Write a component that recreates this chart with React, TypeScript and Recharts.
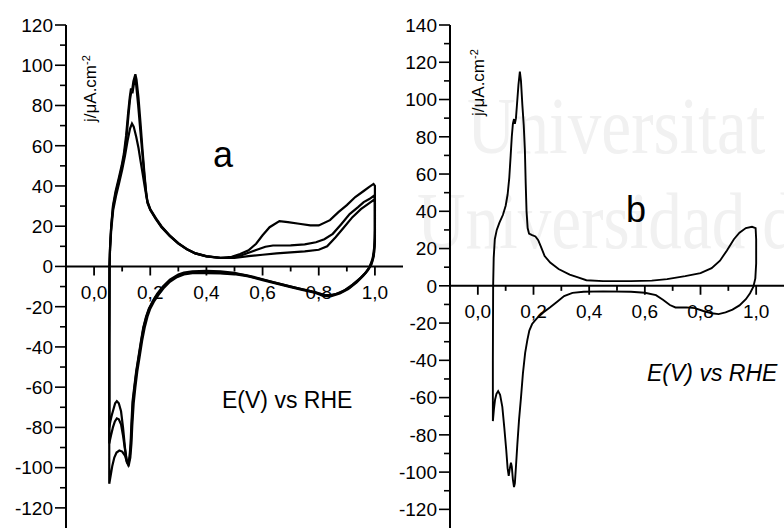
import { Line, LineChart, ReferenceLine, XAxis, YAxis } from 'recharts'

// cyclic voltammograms, [E (V vs RHE), j (µA/cm²)]
const cycleA1 = [
  [0.054, -80], [0.054, -40], [0.055, 0], [0.057, 10], [0.061, 20], [0.067, 30], [0.076, 37], [0.088, 44],
  [0.098, 50], [0.106, 56], [0.114, 65], [0.121, 76], [0.127, 84], [0.131, 88], [0.136, 88], [0.14, 92],
  [0.147, 95.5], [0.151, 93], [0.158, 84], [0.166, 70], [0.173, 57], [0.18, 45], [0.186, 36], [0.19, 31.5],
  [0.2, 28], [0.22, 23.5], [0.24, 19.5], [0.27, 15], [0.3, 11.3], [0.33, 8.5], [0.36, 6.5], [0.4, 5],
  [0.45, 4.3], [0.49, 4.8], [0.52, 6.2], [0.55, 8], [0.577, 11.3], [0.6, 15.5], [0.625, 19.5], [0.66, 22.5],
  [0.69, 22], [0.73, 21.2], [0.77, 20.4], [0.8, 20.4], [0.84, 23], [0.87, 27], [0.9, 30.5], [0.93, 34.5],
  [0.96, 37.5], [0.98, 39.5], [0.995, 41], [1.0, 40], [1.0, 30], [1.0, 18], [0.998, 10], [0.992, 4],
  [0.982, 0], [0.968, -3], [0.95, -5.5], [0.92, -9], [0.89, -12], [0.86, -13.8], [0.83, -14.5], [0.8, -13.5],
  [0.77, -12.3], [0.73, -11], [0.68, -9.3], [0.63, -7.5], [0.58, -5.6], [0.54, -4.3], [0.5, -3.6], [0.45, -3.2],
  [0.4, -3], [0.35, -3], [0.32, -3.6], [0.3, -4.6], [0.27, -7], [0.245, -10.4], [0.225, -14], [0.209, -17.5],
  [0.195, -21], [0.185, -25], [0.175, -30.5], [0.167, -37], [0.158, -45], [0.15, -52], [0.143, -60], [0.137, -67],
  [0.133, -78], [0.13, -88], [0.126, -95], [0.121, -98.5], [0.116, -97], [0.11, -90], [0.103, -80], [0.096, -72],
  [0.088, -68], [0.081, -67], [0.075, -68], [0.069, -71], [0.063, -74], [0.058, -77], [0.054, -80],
]

const cycleA2 = [
  [0.054, -88], [0.054, -40], [0.055, 0], [0.057, 10], [0.061, 20], [0.068, 30], [0.078, 37], [0.09, 44],
  [0.1, 50], [0.108, 56], [0.116, 65], [0.123, 76], [0.128, 83], [0.132, 86.5], [0.137, 86.5], [0.141, 90],
  [0.146, 93], [0.15, 90], [0.157, 80], [0.165, 67], [0.172, 56], [0.179, 45], [0.185, 37], [0.19, 32.5],
  [0.2, 28.5], [0.22, 24], [0.24, 20], [0.27, 15.3], [0.3, 11.6], [0.33, 8.7], [0.36, 6.6], [0.4, 5.1],
  [0.45, 4.3], [0.49, 4.4], [0.52, 5.3], [0.55, 6.8], [0.577, 8.2], [0.61, 9.8], [0.637, 10.4], [0.7, 10.5],
  [0.75, 11], [0.79, 12], [0.82, 13.5], [0.85, 16.2], [0.88, 21], [0.91, 26], [0.94, 29.5], [0.96, 32],
  [0.98, 33.5], [0.995, 35], [1.0, 34], [1.0, 24], [1.0, 14], [0.997, 7], [0.99, 2.5], [0.978, -1],
  [0.962, -3.8], [0.94, -7], [0.91, -10.5], [0.88, -12.8], [0.85, -14.2], [0.82, -14.2], [0.79, -12.8], [0.75, -11.6],
  [0.7, -10], [0.65, -8.3], [0.6, -6.5], [0.55, -4.8], [0.5, -3.2], [0.45, -2.4], [0.4, -2.2], [0.35, -2.4],
  [0.32, -3], [0.3, -4], [0.27, -6.5], [0.245, -10], [0.225, -13.5], [0.21, -17], [0.196, -21], [0.186, -25],
  [0.176, -30.5], [0.168, -37], [0.159, -45], [0.151, -52], [0.144, -60], [0.138, -68], [0.134, -79], [0.131, -88],
  [0.127, -95], [0.122, -98], [0.116, -96], [0.11, -91], [0.103, -84], [0.096, -78.5], [0.088, -76], [0.081, -75.5],
  [0.074, -77], [0.067, -80], [0.061, -83.5], [0.057, -86], [0.054, -88],
]

const cycleA3 = [
  [0.054, -108], [0.054, -40], [0.055, 0], [0.057, 9], [0.061, 18], [0.068, 28], [0.078, 35], [0.09, 42],
  [0.1, 48], [0.11, 55], [0.12, 63], [0.128, 68.5], [0.135, 71], [0.141, 69.5], [0.15, 64.5], [0.158, 59],
  [0.166, 52], [0.173, 46], [0.18, 40], [0.186, 35], [0.19, 32], [0.2, 28.3], [0.22, 23.7], [0.24, 19.7],
  [0.27, 15.2], [0.3, 11.5], [0.33, 8.6], [0.36, 6.5], [0.4, 5], [0.45, 4.2], [0.5, 4.2], [0.55, 5.1],
  [0.6, 5.8], [0.65, 6.5], [0.7, 7], [0.75, 7.5], [0.8, 8.3], [0.83, 10], [0.86, 14.5], [0.89, 19.5],
  [0.92, 24.5], [0.95, 28.5], [0.98, 31.5], [0.995, 33], [1.0, 32], [1.0, 22], [1.0, 12], [0.996, 5],
  [0.988, 1], [0.975, -2], [0.958, -4.8], [0.935, -8], [0.905, -11.3], [0.875, -13.5], [0.845, -14.8], [0.815, -14.6],
  [0.785, -13], [0.745, -11.8], [0.7, -10.3], [0.65, -8.6], [0.6, -6.8], [0.55, -5], [0.5, -3.9], [0.45, -3.5],
  [0.4, -3.3], [0.35, -3.3], [0.32, -4], [0.295, -5.3], [0.27, -7.6], [0.25, -10.4], [0.23, -14], [0.213, -17.5],
  [0.2, -21], [0.19, -25], [0.18, -30.5], [0.171, -37], [0.162, -45], [0.154, -52], [0.147, -60], [0.141, -68],
  [0.136, -79], [0.133, -88], [0.129, -95], [0.124, -98.5], [0.118, -97.5], [0.11, -94], [0.1, -92], [0.09, -91.5],
  [0.08, -92.5], [0.072, -95], [0.065, -99], [0.059, -104], [0.054, -108],
]

const cycleB = [
  [0.054, -72.6], [0.054, -40], [0.055, 0], [0.057, 15], [0.061, 25], [0.068, 30], [0.078, 34], [0.09, 38],
  [0.1, 43], [0.107, 49], [0.113, 58], [0.118, 70], [0.122, 80], [0.126, 87], [0.13, 89.5], [0.133, 87],
  [0.137, 90], [0.141, 98], [0.146, 108], [0.151, 115], [0.155, 110], [0.16, 97], [0.165, 86], [0.169, 73],
  [0.172, 55], [0.175, 40], [0.179, 31], [0.184, 28], [0.195, 27.2], [0.207, 26.5], [0.217, 24.5], [0.228, 20.5],
  [0.24, 16], [0.26, 12.5], [0.29, 9], [0.33, 6], [0.36, 4.5], [0.39, 3], [0.45, 2.5], [0.55, 2.5],
  [0.625, 2.8], [0.68, 3.6], [0.745, 5.2], [0.8, 6.8], [0.84, 9.5], [0.87, 13.5], [0.895, 19], [0.92, 25],
  [0.94, 28.5], [0.963, 31], [0.985, 31.7], [0.998, 31], [1.0, 25], [1.0, 12], [0.997, 4], [0.99, -0.5],
  [0.978, -4], [0.963, -7.2], [0.94, -10.5], [0.915, -12.8], [0.89, -14.3], [0.865, -15.2], [0.84, -14.7], [0.81, -13.5],
  [0.78, -12], [0.75, -11.6], [0.71, -11.6], [0.69, -10.3], [0.665, -7.5], [0.64, -5], [0.6, -3.7], [0.55, -3.2],
  [0.45, -3], [0.38, -3.2], [0.34, -3.8], [0.31, -5.5], [0.285, -8.5], [0.26, -11.5], [0.235, -14.3], [0.212, -17.5],
  [0.195, -20.5], [0.185, -24], [0.178, -29], [0.17, -36], [0.162, -47], [0.155, -60], [0.148, -72], [0.142, -85],
  [0.137, -97], [0.133, -106], [0.13, -108], [0.126, -104], [0.122, -97], [0.119, -95], [0.115, -98], [0.111, -102],
  [0.107, -98], [0.102, -88], [0.095, -76], [0.088, -65], [0.08, -58.5], [0.073, -56.5], [0.067, -58], [0.062, -61],
  [0.058, -66], [0.055, -71], [0.054, -72.6],
]

const xTicks = [0, 0.1, 0.2, 0.3, 0.4, 0.5, 0.6, 0.7, 0.8, 0.9, 1.0]
const xTickLabels = ['0,0', '', '0,2', '', '0,4', '', '0,6', '', '0,8', '', '1,0']
const yTicksA = [-120, -110, -100, -90, -80, -70, -60, -50, -40, -30, -20, -10, 0, 10, 20, 30, 40, 50, 60, 70, 80, 90, 100, 110, 120]
const yTicksB = [...yTicksA, 130, 140]

const FONT = "'Liberation Sans', Arial, sans-serif"

const toPts = (rows: number[][]) => rows.map(([e, j]) => ({ e, j }))

function YTick(props: any) {
  const { x, y, payload } = props
  const major = payload.value % 20 === 0
  return (
    <g>
      <line x1={major ? x + 2 : x + 7} x2={x + 13} y1={y} y2={y} stroke="#000" strokeWidth={1.6} />
      {major && (
        <text x={x} y={y} dy="0.36em" textAnchor="end" fontSize={19} fontFamily={FONT} fill="#000">
          {payload.value}
        </text>
      )}
    </g>
  )
}

function CvPanel({
  width,
  cycles,
  yDomain,
  yTicks,
  tickLen,
  strokeWidth,
}: {
  width: number
  cycles: number[][][]
  yDomain: [number, number]
  yTicks: number[]
  tickLen: [number, number]
  strokeWidth: number
}) {
  return (
    <LineChart width={width} height={528} margin={{ top: 25, right: 0, bottom: 0, left: 0 }}>
      <XAxis type="number" dataKey="e" domain={[-0.1, 1.1]} allowDataOverflow hide />
      <YAxis
        type="number"
        domain={yDomain}
        ticks={yTicks}
        interval={0}
        allowDataOverflow
        width={66}
        tickSize={10}
        tickMargin={3}
        tickLine={false}
        axisLine={{ stroke: '#000', strokeWidth: 2 }}
        tick={(p: any) => <YTick {...p} />}
      />
      <ReferenceLine y={0} stroke="#000" strokeWidth={2} />
      {xTicks.map((v, i) => (
        <ReferenceLine
          key={i}
          segment={[{ x: v, y: 0 }, { x: v, y: -(xTickLabels[i] ? tickLen[0] : tickLen[1]) }]}
          stroke="#000"
          strokeWidth={1.8}
          label={
            xTickLabels[i]
              ? { value: xTickLabels[i], position: 'bottom', offset: 10, fill: '#000', fontSize: 19, fontFamily: FONT }
              : undefined
          }
        />
      ))}
      {cycles.map((c, i) => (
        <Line
          key={i}
          data={toPts(c)}
          dataKey="j"
          type="linear"
          stroke="#000"
          strokeWidth={strokeWidth}
          dot={false}
          activeDot={false}
          isAnimationActive={false}
        />
      ))}
    </LineChart>
  )
}

export default function App() {
  return (
    <div
      style={{
        position: 'absolute',
        left: 0,
        top: 0,
        width: 784,
        height: 528,
        background: '#fff',
        overflow: 'hidden',
      }}
    >
      <svg width={784} height={528} style={{ position: 'absolute', left: 0, top: 0 }}>
        <g fill="#f1f1f1" fontFamily="'Liberation Serif', 'DejaVu Serif', serif" fontSize={80}>
          <text transform="translate(467,153) scale(0.84,1)">Universitat de</text>
          <text transform="translate(417,248) scale(0.84,1)">Universidad de</text>
        </g>
      </svg>
      <div style={{ position: 'absolute', left: 0, top: 0 }}>
        <CvPanel
          width={403}
          cycles={[cycleA1, cycleA2, cycleA3]}
          yDomain={[-130, 120]}
          yTicks={yTicksA}
          tickLen={[4.5, 2.5]}
          strokeWidth={2.2}
        />
      </div>
      <div style={{ position: 'absolute', left: 384, top: 0 }}>
        <CvPanel
          width={400}
          cycles={[cycleB]}
          yDomain={[-130, 140]}
          yTicks={yTicksB}
          tickLen={[4.8, 2.7]}
          strokeWidth={1.9}
        />
      </div>
      <svg width={784} height={528} style={{ position: 'absolute', left: 0, top: 0, pointerEvents: 'none' }}>
        <g fontFamily={FONT} fill="#000">
          <text x={223} y={167} fontSize={36} textAnchor="middle">a</text>
          <text x={636} y={222} fontSize={36} textAnchor="middle">b</text>
          <text x={222} y={408} fontSize={23}>E(V) vs RHE</text>
          <text x={647} y={381} fontSize={23} fontStyle="italic">E(V) vs RHE</text>
          <text transform="translate(96,122) rotate(-90)" fontSize={17}>
            j/μA.cm<tspan dy={-6} fontSize={11}>-2</tspan>
          </text>
          <text transform="translate(484,116) rotate(-90)" fontSize={17}>
            j/μA.cm<tspan dy={-6} fontSize={11}>-2</tspan>
          </text>
        </g>
      </svg>
    </div>
  )
}
